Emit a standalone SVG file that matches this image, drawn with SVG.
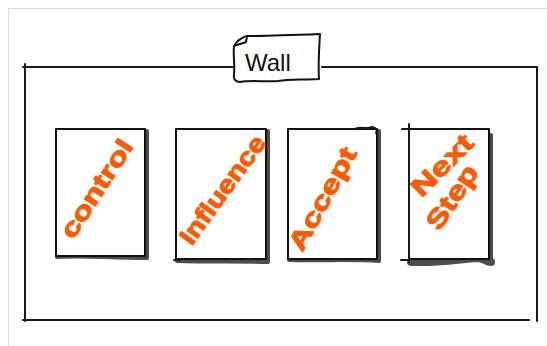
<svg xmlns="http://www.w3.org/2000/svg" width="547" height="346" viewBox="0 0 547 346">
<style>
.bg{fill:#ffffff}
.edge{stroke:#dddddd;stroke-width:1;fill:none}
.frame{stroke:#1a1a1a;stroke-width:2;fill:none;stroke-linecap:round}
.card{fill:#ffffff;stroke:#111111;stroke-width:2;stroke-linejoin:round;stroke-linecap:round}
.shadow{fill:none;stroke:#4d4d4d;stroke-linecap:round;stroke-linejoin:round}
.hand{font-family:"Liberation Sans","DejaVu Sans",sans-serif;font-weight:bold;fill:#ff5a00;stroke:#ff5a00;stroke-width:1;stroke-linejoin:round}
.wall{font-family:"Liberation Sans","DejaVu Sans",sans-serif;font-size:24px;fill:#111111}
.tag{fill:#ffffff;stroke:#111111;stroke-width:2;stroke-linejoin:round}
</style>
<rect class="bg" x="0" y="0" width="547" height="346"/>
<path class="edge" d="M8.5 346 V8.5 H547"/>

<g id="frame">
  <path class="frame" d="M23 67 H233 M322 67 H537 V321"/>
  <path class="frame" d="M25 64 V321"/>
  <path class="frame" d="M23 320 H529"/>
</g>

<g id="wall">
  <path class="tag" d="M236 43 C240 38 244 37 247 36 C270 36 295 35 320 34 C319 50 318 65 319 79 C300 80 290 79 278 81 C265 82 250 80 240 82 C236 82 233 79 234 75 C235 65 233 55 234 46 Z"/>
  <path class="tag" d="M234 46 C238 44 242 44 246 42 C246 40 247 38 247 36" fill="none"/>
  <text class="wall" x="245" y="71">Wall</text>
</g>

<g id="card-control">
  <path class="shadow" stroke-width="4" d="M147 131 V258 M57 257 C80 255 110 258 147 258"/>
  <path class="card" d="M56 129 H145 V256 H56 Z"/>
  <text class="hand" font-size="25" textLength="112" lengthAdjust="spacingAndGlyphs" transform="translate(97 189) rotate(-57)" x="-56" y="8">control</text>
</g>

<g id="card-influence">
  <path class="shadow" stroke-width="4" d="M268 131 V262 M177 261 C210 262 240 261 268 262"/>
  <path class="card" d="M176 129 H266 V259 H176 Z"/>
  <path class="frame" d="M174 260 H180"/>
  <text class="hand" font-size="25" textLength="128" lengthAdjust="spacingAndGlyphs" transform="translate(223 190) rotate(-54)" x="-64" y="8">Influence</text>
</g>

<g id="card-accept">
  <path class="shadow" stroke-width="4" d="M379 131 V261 M289 260 C320 261 350 259 379 261"/>
  <path class="card" d="M288 129 H377 V259 H288 Z"/>
  <path class="frame" d="M355 129 C362 126 366 130 372 127 C376 128 378 130 376 133"/>
  <text class="hand" font-size="25" textLength="114" lengthAdjust="spacingAndGlyphs" transform="translate(323 199) rotate(-61)" x="-57" y="8">Accept</text>
</g>

<g id="card-next-step">
  <path class="shadow" stroke-width="4" d="M491 135 V263"/>
  <path class="shadow" stroke-width="8" d="M411 262 C440 263 460 259 477 258 C484 258 486 262 491 262"/>
  <path class="card" d="M409 129 H489 V259 H409 Z"/>
  <path class="frame" d="M402 129 H409 M409 124 V262 M401 260 H409"/>
  <text class="hand" font-size="26" textLength="76" lengthAdjust="spacingAndGlyphs" transform="translate(442 165) rotate(-45)" x="-38" y="9">Next</text>
  <text class="hand" font-size="26" textLength="72" lengthAdjust="spacingAndGlyphs" transform="translate(452 197) rotate(-56)" x="-36" y="9">Step</text>
</g>
</svg>
